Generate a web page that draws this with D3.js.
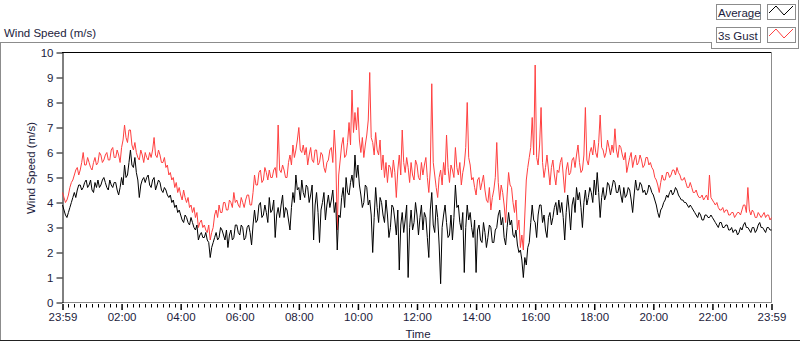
<!DOCTYPE html>
<html>
<head>
<meta charset="utf-8">
<script src="https://cdn.jsdelivr.net/npm/d3@7"></script>
<style>
  body { margin: 0; background: #fff; }
  text { font-family: "Liberation Sans", Arial, sans-serif; font-size: 11.5px; fill: #1c1c3c; }
</style>
</head>
<body>
<svg id="chart" width="800" height="342"></svg>
<script>
// one sample every 3 minutes, from 00:00 to 24:00 (20 values per hour)
const sampleStep = 3;

const average = [
  3.9,3.7, 3.5,3.4, 3.6,3.8, 4.0,4.2, 4.4,4.2, 4.5,4.7, 4.7,4.5, 4.6,4.8, 4.9,4.6, 4.7,4.9,
  4.5,4.4, 4.8,4.6, 4.9,4.6, 4.7,4.9, 5.0,4.8, 4.6,4.5, 4.9,4.7, 4.6,4.8, 4.8,4.5, 4.3,4.6,
  5.0,4.7, 5.5,5.0, 5.1,5.6, 6.1,5.5, 5.4,5.8, 5.2,4.9, 4.2,4.7, 4.9,5.0, 4.8,5.0, 5.1,4.7,
  4.6,4.9, 5.0,4.5, 4.7,4.9, 4.8,4.5, 4.4,4.6, 4.5,4.3, 4.2,4.3, 4.0,4.1, 3.8,3.9, 3.6,3.7,
  3.5,3.3, 3.2,3.5, 3.4,3.2, 3.1,3.4, 3.2,3.0, 2.9,3.1, 2.5,2.7, 2.8,2.6, 2.6,2.8, 2.5,2.4,
  1.8,2.2, 2.4,2.6, 2.8,2.5, 2.6,3.0, 2.9,2.7, 2.5,2.9, 2.2,2.7, 2.9,2.5, 2.6,3.1, 3.1,2.8,
  2.7,3.1, 3.0,2.5, 2.6,3.0, 3.1,2.8, 2.3,3.1, 3.7,3.2, 3.3,3.9, 4.0,3.4, 3.5,3.9, 3.6,3.2,
  4.2,3.6, 3.7,4.1, 2.6,3.5, 3.8,3.4, 3.9,4.3, 3.4,3.8, 3.7,3.3, 2.9,3.8, 4.4,4.0, 5.1,4.5,
  4.6,4.1, 4.9,4.4, 4.2,4.7, 4.6,4.0, 4.3,4.7, 2.5,3.9, 4.4,3.6, 2.4,3.7, 4.0,4.4, 3.3,3.9,
  4.3,3.8, 4.1,4.5, 3.6,4.0, 2.1,3.5, 3.4,4.2, 4.6,3.8, 5.0,4.4, 4.3,4.8, 5.1,4.6, 5.9,5.0,
  5.5,4.7, 4.3,3.8, 4.0,4.7, 4.6,3.9, 4.1,3.5, 2.0,3.4, 4.6,3.8, 3.2,4.2, 4.0,3.5, 3.2,4.1,
  3.5,2.6, 3.0,3.9, 3.8,3.3, 2.7,3.7, 1.3,3.1, 3.6,2.8, 3.3,3.9, 1.0,3.0, 3.7,2.9, 3.2,4.0,
  3.5,2.7, 3.4,3.9, 2.9,3.6, 3.4,2.6, 1.8,3.7, 4.4,3.1, 2.8,3.9, 3.4,2.3, 0.75,3.0, 3.5,3.9,
  3.2,2.6, 2.7,3.5, 2.5,3.4, 4.7,3.8, 3.9,3.2, 2.9,3.6, 1.2,3.0, 3.9,3.3, 3.6,3.0, 2.6,3.3,
  1.2,2.9, 3.1,2.5, 2.4,3.2, 2.8,2.2, 2.6,3.1, 3.0,2.4, 2.4,2.9, 3.0,3.5, 3.7,3.1, 3.4,2.6,
  2.3,3.0, 3.6,3.1, 3.3,2.7, 2.6,2.9, 2.3,2.0, 2.1,1.7, 1.0,1.8, 1.5,2.2, 2.4,3.2, 3.9,3.3,
  3.2,2.6, 3.5,3.9, 3.9,3.2, 3.5,2.9, 2.6,3.4, 3.6,3.1, 3.4,3.8, 4.0,3.5, 4.1,3.6, 4.0,3.4,
  2.5,3.6, 4.3,3.7, 2.9,3.9, 4.2,3.6, 4.6,4.1, 4.4,3.8, 3.0,4.0, 4.5,3.9, 4.2,4.6, 4.4,4.0,
  4.9,4.3, 5.2,4.4, 3.4,4.2, 4.6,4.1, 4.3,4.8, 4.7,4.3, 4.6,4.9, 4.8,4.4, 4.4,4.7, 4.3,4.0,
  4.6,4.2, 4.3,4.6, 4.5,4.1, 3.6,4.3, 4.9,4.5, 4.5,4.8, 4.7,4.4, 4.5,4.3, 4.4,4.7, 4.6,4.4,
  4.3,4.1, 3.9,3.6, 3.4,3.7, 3.8,4.0, 4.1,4.3, 4.2,4.4, 4.5,4.3, 4.4,4.6, 4.5,4.3, 4.2,4.1,
  4.1,4.0, 4.0,3.9, 3.8,3.9, 3.8,3.7, 3.6,3.5, 3.4,3.6, 3.5,3.3, 3.3,3.5, 3.5,3.4, 3.4,3.5,
  3.4,3.3, 3.2,3.1, 3.0,3.2, 3.2,3.0, 3.0,3.1, 3.1,2.9, 2.9,3.0, 2.8,2.9, 2.9,2.7, 2.8,3.0,
  2.9,3.1, 3.2,3.0, 3.0,2.9, 2.8,3.0, 3.0,2.8, 2.9,3.1, 3.2,3.0, 3.0,2.9, 2.8,3.0, 3.0,2.9,
  2.9
];

const gust = [
  4.4,4.2, 4.0,4.1, 4.3,4.6, 4.8,4.9, 5.1,5.3, 5.4,5.1, 5.3,5.6, 6.0,5.5, 5.5,5.8, 5.6,5.4,
  5.3,5.6, 5.8,5.5, 5.6,6.0, 5.9,5.6, 5.7,5.9, 6.0,5.7, 5.7,6.1, 6.2,5.8, 5.8,6.1, 5.9,5.6,
  6.2,6.5, 7.1,6.6, 6.4,6.9, 6.9,6.3, 6.1,6.4, 6.0,5.8, 5.7,6.1, 5.9,5.6, 6.0,5.8, 5.7,6.0,
  5.8,6.1, 6.6,5.9, 5.8,6.1, 5.9,5.6, 5.6,5.8, 5.4,5.5, 5.1,5.2, 4.9,5.0, 4.6,4.8, 4.4,4.6,
  4.3,4.1, 4.5,4.2, 4.0,4.2, 3.8,3.9, 3.6,3.8, 3.4,3.6, 3.0,3.2, 3.3,3.0, 3.1,2.9, 2.8,3.1,
  2.5,2.8, 3.0,3.5, 3.7,3.4, 3.9,3.6, 3.6,4.0, 4.0,3.7, 3.7,4.1, 4.0,3.8, 4.4,4.0, 4.1,3.9,
  3.8,4.2, 4.0,3.8, 4.1,4.3, 4.3,3.9, 3.9,4.4, 5.1,4.7, 4.7,5.2, 5.3,4.8, 4.9,5.4, 5.2,4.9,
  5.3,5.0, 5.0,5.3, 5.4,5.0, 7.1,5.3, 5.2,5.5, 5.3,5.0, 5.0,5.6, 5.9,5.5, 6.3,5.8, 6.1,6.5,
  7.0,6.1, 6.0,6.3, 5.9,6.2, 5.5,5.9, 6.2,5.7, 5.6,6.1, 6.1,5.5, 5.6,6.0, 5.9,5.4, 5.2,5.6,
  5.7,6.1, 6.2,5.6, 6.9,5.9, 2.9,5.1, 5.7,6.3, 6.6,5.8, 5.9,6.4, 7.2,6.3, 8.5,6.8, 7.6,6.9,
  7.8,6.5, 6.0,6.6, 5.8,6.3, 6.7,7.3, 9.2,6.6, 6.4,5.9, 6.8,6.1, 5.9,6.5, 5.3,5.9, 5.0,5.6,
  4.8,5.5, 5.4,5.0, 5.7,5.2, 4.2,5.3, 5.9,5.1, 6.9,5.6, 5.2,5.8, 5.4,4.8, 5.6,5.1, 4.9,5.7,
  5.5,5.0, 4.9,5.6, 5.1,5.5, 5.8,5.0, 4.4,5.3, 8.75,5.6, 5.1,4.6, 4.2,5.0, 5.3,4.7, 5.6,5.1,
  6.7,5.4, 4.8,5.5, 5.3,5.0, 6.2,5.4, 5.1,5.6, 4.7,5.2, 5.5,6.2, 8.0,5.8, 5.5,4.9, 5.0,4.6,
  4.3,4.9, 5.0,4.5, 4.8,5.1, 4.5,4.1, 4.0,4.6, 3.7,4.2, 4.5,5.0, 6.4,4.8, 4.1,4.7, 4.4,3.9,
  3.2,4.3, 5.2,4.7, 4.6,4.0, 3.6,4.1, 2.9,3.3, 2.2,2.7, 2.1,3.5, 4.9,5.4, 5.8,6.2, 7.4,5.9,
  9.5,5.8, 5.5,6.3, 7.8,5.6, 5.0,5.4, 5.9,5.3, 4.7,5.4, 5.7,5.1, 4.7,5.3, 5.2,5.6, 5.8,5.1,
  4.4,5.3, 5.6,5.1, 5.2,5.7, 5.8,5.4, 5.9,6.3, 5.6,5.2, 5.3,5.9, 7.8,5.7, 5.5,6.0, 6.2,5.9,
  6.5,6.0, 5.8,6.4, 7.5,6.2, 6.1,5.8, 6.0,6.5, 6.2,5.9, 6.3,6.0, 6.95,6.1, 5.8,6.3, 6.2,5.9,
  5.7,6.0, 5.2,5.5, 5.8,6.0, 5.4,5.7, 5.9,5.5, 5.6,5.9, 5.7,5.4, 5.5,5.8, 5.8,5.5, 5.6,5.4,
  5.3,5.0, 4.9,4.7, 4.4,4.8, 5.1,4.9, 4.9,5.2, 5.2,5.0, 5.1,5.3, 5.3,5.1, 5.4,5.2, 5.1,4.9,
  4.9,5.0, 4.8,4.6, 4.6,4.8, 4.6,4.4, 4.4,4.5, 4.3,4.2, 4.2,4.3, 4.1,4.2, 4.3,4.1, 5.1,4.2,
  4.1,4.0, 3.9,4.0, 3.8,3.7, 3.7,3.8, 3.6,3.7, 3.7,3.5, 3.5,3.6, 3.6,3.4, 3.5,3.6, 3.6,3.5,
  3.7,3.9, 3.9,3.6, 4.6,3.7, 3.5,3.7, 3.6,3.4, 3.4,3.6, 3.5,3.4, 3.5,3.6, 3.4,3.5, 3.5,3.3,
  3.4
];

const tickMinutes = [0, 120, 240, 360, 480, 600, 720, 840, 960, 1080, 1200, 1320, 1440];
const tickLabels = ["23:59", "02:00", "04:00", "06:00", "08:00", "10:00", "12:00",
  "14:00", "16:00", "18:00", "20:00", "22:00", "23:59"];
const yTicks = [0, 1, 2, 3, 4, 5, 6, 7, 8, 9, 10];
const legendNames = ["Average", "3s Gust"];
const legendColors = ["#000000", "#ff4040"];

const svg = d3.select("#chart");

const x = d3.scaleLinear().domain([0, 1440]).range([62.5, 771.5]);
const y = d3.scaleLinear().domain([0, 10]).range([302.5, 52.5]);

// outer panel frame
svg.append("line").attr("x1", 0).attr("x2", 712).attr("y1", 42.5).attr("y2", 42.5).attr("stroke", "#8c8c8c");
svg.append("line").attr("x1", 0.5).attr("x2", 0.5).attr("y1", 42).attr("y2", 341).attr("stroke", "#8c8c8c");
svg.append("line").attr("x1", 0).attr("x2", 800).attr("y1", 340.5).attr("y2", 340.5).attr("stroke", "#222");

svg.append("text").attr("x", 4).attr("y", 37).text("Wind Speed (m/s)");

// plot frame
svg.append("line").attr("x1", 62).attr("x2", 772).attr("y1", 52.5).attr("y2", 52.5).attr("stroke", "#000");
svg.append("line").attr("x1", 771.5).attr("x2", 771.5).attr("y1", 52).attr("y2", 303).attr("stroke", "#8c8c8c");
svg.append("line").attr("x1", 62).attr("x2", 772).attr("y1", 302.5).attr("y2", 302.5).attr("stroke", "#8c8c8c");

// y axis
const yAxis = svg.append("g")
  .attr("transform", "translate(62.5,0)")
  .call(d3.axisLeft(y).tickValues(yTicks).tickSize(6).tickSizeOuter(0).tickPadding(3));
yAxis.select(".domain").attr("stroke", "#000");
yAxis.selectAll(".tick line").attr("stroke", "#000");
yAxis.selectAll("text").attr("font-family", null).attr("font-size", null);

// x axis: minor ticks every 12 min, labelled major ticks every 2 h
const minorTicks = d3.range(0, 1441, 12).filter(d => !tickMinutes.includes(d));
svg.append("g").selectAll("line").data(minorTicks).enter()
  .append("line")
  .attr("x1", d => Math.round(x(d)) + 0.5)
  .attr("x2", d => Math.round(x(d)) + 0.5)
  .attr("y1", 304).attr("y2", 307.5)
  .attr("stroke", "#000");

const xAxis = svg.append("g")
  .attr("transform", "translate(0,304)")
  .call(d3.axisBottom(x).tickValues(tickMinutes).tickFormat((d, i) => tickLabels[i]).tickSize(6).tickPadding(3));
xAxis.select(".domain").remove();
xAxis.selectAll(".tick line").attr("stroke", "#000").attr("stroke-width", 1.5);
xAxis.selectAll("text").attr("font-family", null).attr("font-size", null);

svg.append("text").attr("x", 418).attr("y", 338).attr("text-anchor", "middle").text("Time");
svg.append("text")
  .attr("transform", "translate(35,168) rotate(-90)")
  .attr("text-anchor", "middle")
  .text("Wind Speed (m/s)");

// series
const line = d3.line()
  .x((d, i) => x(i * sampleStep))
  .y(d => y(d));

svg.append("path").datum(gust)
  .attr("d", line).attr("fill", "none")
  .attr("stroke", legendColors[1]).attr("stroke-width", 1);

svg.append("path").datum(average)
  .attr("d", line).attr("fill", "none")
  .attr("stroke", legendColors[0]).attr("stroke-width", 1);

// legend panel
svg.append("line").attr("x1", 711.5).attr("x2", 711.5).attr("y1", 42).attr("y2", 49).attr("stroke", "#8c8c8c");
svg.append("line").attr("x1", 711).attr("x2", 799).attr("y1", 48.5).attr("y2", 48.5).attr("stroke", "#8c8c8c");
svg.append("line").attr("x1", 798.5).attr("x2", 798.5).attr("y1", 0).attr("y2", 49).attr("stroke", "#8c8c8c");

const legend = svg.append("g").selectAll("g").data(legendNames).enter()
  .append("g")
  .attr("transform", (d, i) => `translate(0,${i * 23})`);

legend.append("rect")
  .attr("x", 716.5).attr("y", 4.5).attr("width", 44).attr("height", 15)
  .attr("fill", "#fff").attr("stroke", "#8c8c8c");
legend.append("text")
  .attr("x", 718).attr("y", 16.5)
  .text(d => d);
legend.append("rect")
  .attr("x", 767.5).attr("y", 4.5).attr("width", 28).attr("height", 15)
  .attr("fill", "#fff").attr("stroke", "#8c8c8c");
legend.append("polyline")
  .attr("points", "769,13 776,6 784,15 793,6")
  .attr("fill", "none")
  .attr("stroke", (d, i) => legendColors[i]);
</script>
</body>
</html>
